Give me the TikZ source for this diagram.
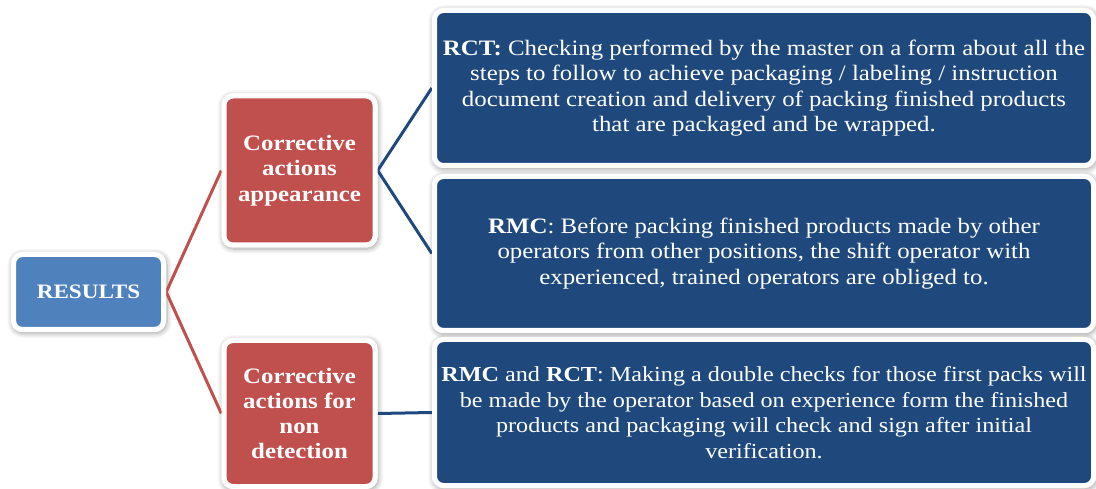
\documentclass[tikz,border=0pt]{standalone}
\usepackage{fontspec}
\setmainfont{Liberation Serif}[FakeStretch=1.13]
\usetikzlibrary{shadows.blur}
\definecolor{resblue}{RGB}{79,129,189}
\definecolor{redbox}{RGB}{192,80,77}
\definecolor{darkblue}{RGB}{31,73,125}
\tikzset{
  halo/.style={fill=white, rounded corners=11pt, inner sep=0pt,
    blur shadow={shadow blur steps=8, shadow blur radius=5pt, shadow xshift=1pt, shadow yshift=-1.5pt, shadow opacity=35}},
  box/.style={draw=white, line width=5pt, rounded corners=9pt, inner sep=0pt, text=white},
  resbox/.style={box, fill=resblue, font=\fontsize{20.5}{24}\selectfont\bfseries},
  rednode/.style={box, fill=redbox, align=center, font=\fontsize{22}{25.3}\selectfont\bfseries},
  bluebox/.style={box, fill=darkblue, align=center, font=\fontsize{22}{25.5}\selectfont},
  redline/.style={draw=redbox, line width=3pt},
  blueline/.style={draw=darkblue, line width=3pt},
}
\begin{document}
\begin{tikzpicture}[x=1pt,y=-1pt]
\useasboundingbox (0,0) rectangle (1096,489);
\coordinate (resc) at (88.5,292);
\coordinate (c1c) at (299.5,170.5);
\coordinate (c2c) at (299.5,413.5);
\coordinate (b1c) at (764,88);
\coordinate (b2c) at (764,253.5);
\coordinate (b3c) at (764,412.5);
% white halos with soft shadows (outer extent of each box)
\node[halo, minimum width=155pt, minimum height=80pt] (resg) at (resc) {};
\node[halo, minimum width=156pt, minimum height=154pt] (c1g) at (c1c) {};
\node[halo, minimum width=156pt, minimum height=151pt] (c2g) at (c2c) {};
\node[halo, minimum width=664pt, minimum height=160pt] (b1g) at (b1c) {};
\node[halo, minimum width=664pt, minimum height=159pt] (b2g) at (b2c) {};
\node[halo, minimum width=664pt, minimum height=151pt] (b3g) at (b3c) {};
% connectors
\draw[redline] (resg.east) -- (c1g.west);
\draw[redline] (resg.east) -- (c2g.west);
\draw[blueline] (c1g.east) -- (b1g.west);
\draw[blueline] (c1g.east) -- (b2g.west);
\draw[blueline] (c2g.east) -- (b3g.west);
% boxes
\node[resbox, minimum width=150pt, minimum height=75pt] (res) at (resc) {RESULTS};
\node[rednode, minimum width=151pt, minimum height=149pt] (c1) at (c1c) {Corrective\\actions\\appearance};
\node[rednode, minimum width=151pt, minimum height=146pt] (c2) at (c2c) {Corrective\\actions for\\non\\detection};
\node[bluebox, minimum width=659pt, minimum height=155pt] (b1) at (b1c) {\textbf{RCT:} Checking performed by the master on a form about all the\\steps to follow to achieve packaging / labeling / instruction\\document creation and delivery of packing finished products\\that are packaged and be wrapped.};
\node[bluebox, minimum width=659pt, minimum height=154pt] (b2) at (b2c) {\textbf{RMC}: Before packing finished products made by other\\operators from other positions, the shift operator with\\experienced, trained operators are obliged to.};
\node[bluebox, minimum width=659pt, minimum height=146pt, font=\fontsize{21.4}{25.5}\selectfont] (b3) at (b3c) {\textbf{RMC} and \textbf{RCT}: Making a double checks for those first packs will\\be made by the operator based on experience form the finished\\products and packaging will check and sign after initial\\verification.};
\end{tikzpicture}
\end{document}
